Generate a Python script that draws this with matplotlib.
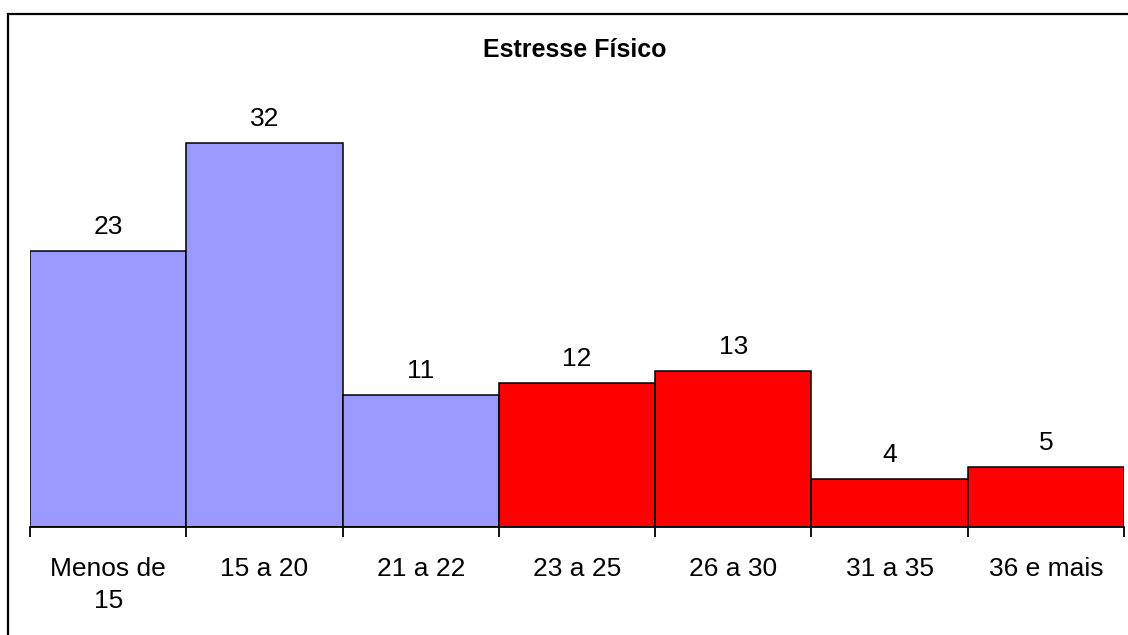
import matplotlib
matplotlib.use("Agg")
import matplotlib.pyplot as plt
from matplotlib.patches import Rectangle
import numpy as np

plt.rcParams['font.family'] = ['Liberation Sans', 'DejaVu Sans']

categories = ["Menos de\n15", "15 a 20", "21 a 22", "23 a 25", "26 a 30", "31 a 35", "36 e mais"]
values = [23, 32, 11, 12, 13, 4, 5]
colors = ["#9999FF", "#9999FF", "#9999FF", "#FF0000", "#FF0000", "#FF0000", "#FF0000"]
title = "Estresse Físico"

W, H = 1128, 635
fig = plt.figure(figsize=(W / 100, H / 100), dpi=100)

# plot area in pixel units
left_px, right_px, base_px = 30, 1124, 527
ymax = 35
unit_px = 12
top_px = base_px - ymax * unit_px
ax = fig.add_axes([left_px / W, (H - base_px) / H,
                   (right_px - left_px) / W, (base_px - top_px) / H])

x = np.arange(len(values))
ax.bar(x, values, width=1.0, color=colors, edgecolor="black", linewidth=1.1, zorder=2)
ax.set_xlim(-0.5, len(values) - 0.5)
ax.set_ylim(0, ymax)

for xi, v in zip(x, values):
    ax.annotate(str(v), (xi, v), xytext=(0, 12), textcoords="offset points",
                ha="center", va="baseline", fontsize=19)

for s in ("left", "right", "top"):
    ax.spines[s].set_visible(False)
ax.spines["bottom"].set_linewidth(1.3)
ax.set_yticks([])

ax.set_xticks(x)
ax.set_xticklabels(categories, fontsize=19, linespacing=1.42)
ax.tick_params(axis="x", which="major", length=0, pad=21.5)
ax.set_xticks(np.arange(len(values) + 1) - 0.5, minor=True)
ax.tick_params(axis="x", which="minor", length=7, width=1.3, color="black")

fig.text(575 / W, 1 - 50 / H, title, ha="center", va="center",
         fontsize=18, fontweight="bold")

# frame around the chart area
fig.patches.append(Rectangle((8 / W, -0.1), 1.2, (H - 14) / H + 0.1,
                             transform=fig.transFigure, fill=False,
                             edgecolor="black", linewidth=1.6, figure=fig))

fig.savefig("out.png", dpi=100, facecolor="white")
